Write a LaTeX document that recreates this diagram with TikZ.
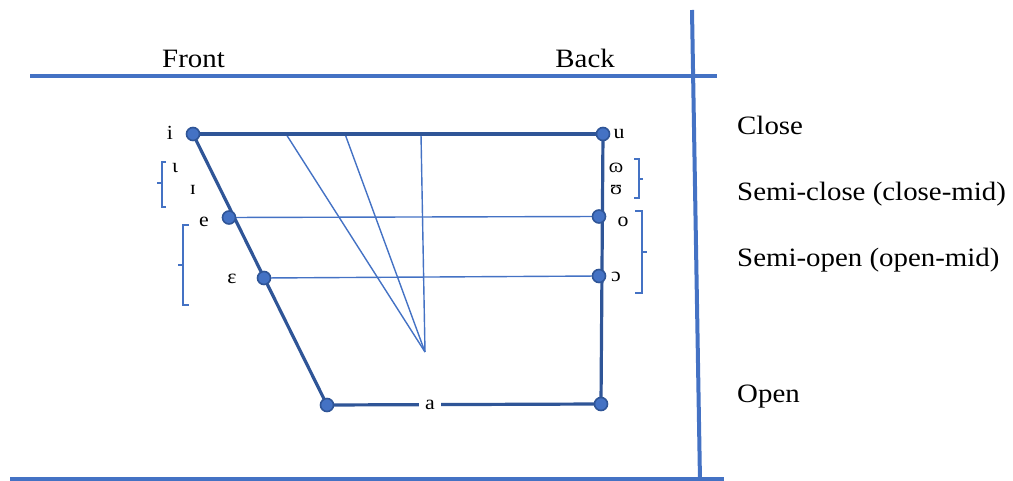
\documentclass[tikz,border=0pt]{standalone}
\usepackage{fontspec}
\usepackage{graphicx}
\setmainfont{Liberation Serif}
\definecolor{frameblue}{RGB}{68,114,196}
\definecolor{darkblue}{RGB}{47,85,151}
\newcommand\wide[1]{\scalebox{1.09}[1]{#1}}
\tikzset{
  frame/.style={draw=frameblue, line width=4pt},
  thick line/.style={draw=darkblue, line width=3.2pt},
  thin line/.style={draw=frameblue, line width=1.4pt},
  bracket/.style={draw=frameblue, line width=2.6pt},
  dot/.style={circle, fill=frameblue, draw=darkblue, line width=1.6pt, minimum size=13pt, inner sep=0pt},
  big label/.style={font=\fontsize{26.5}{30}\selectfont, inner sep=0pt},
  ipa/.style={font=\fontsize{20}{24}\selectfont, inner sep=0pt},
}
\begin{document}
\begin{tikzpicture}[x=1pt, y=-1pt]
\useasboundingbox (0,0) rectangle (1013,481);
% frame
\coordinate (tl) at (30,76.5);
\coordinate (tr) at (717,76.5);
\coordinate (bl) at (10,479);
\coordinate (br) at (724,479);
\coordinate (vt) at (692,10);
\coordinate (vb) at (700,481);
\draw[frame] (tl) -- (tr);
\draw[frame] (bl) -- (br);
\draw[frame] (vt) -- (vb);
% headings
\node[big label, anchor=base west] (front) at (162,68) {\wide{Front}};
\node[big label, anchor=base east] (back) at (615,68) {\wide{Back}};
\node[big label, anchor=base west] (close) at (737,135) {\wide{Close}};
\node[big label, anchor=base west] (semiclose) at (737,201) {\wide{Semi-close (close-mid)}};
\node[big label, anchor=base west] (semiopen) at (737,267) {\wide{Semi-open (open-mid)}};
\node[big label, anchor=base west] (open) at (737,402) {\wide{Open}};
% vowel points
\coordinate (i) at (193,134);
\coordinate (u) at (603,134);
\coordinate (e) at (229,217.5);
\coordinate (o) at (599,216.5);
\coordinate (eps) at (264,278);
\coordinate (oo) at (599,276);
\coordinate (al) at (327,405);
\coordinate (ar) at (601,404);
% fan
\coordinate (f) at (425,352);
\coordinate (t1) at (286,134);
\coordinate (t2) at (345,134);
\coordinate (t3) at (421,134);
\draw[thin line] (t1) -- (f);
\draw[thin line] (t2) -- (f);
\draw[thin line] (t3) -- (f);
\draw[thin line] (e) -- (o);
\draw[thin line] (eps) -- (oo);
% outline
\draw[thick line] (i) -- (u);
\draw[thick line] (i) -- (al);
\draw[thick line] (u) -- (ar);
\draw[thick line] (al) -- node[pos=0.376, ipa, fill=white, inner xsep=6pt, inner ysep=3pt] (alab) {\wide{a}} (ar);
\foreach \p in {i,u,e,o,eps,oo,al,ar} \node[dot] (\p-dot) at (\p) {};
% labels
\node[ipa] (ilab) at (170,133) {\wide{i}};
\node[ipa] (ulab) at (619,134) {\wide{u}};
\node[ipa] (iotalab) at (175,168) {\wide{ɩ}};
\node[ipa] (smallcapi) at (193,190) {\wide{ɪ}};
\node[ipa] (elab) at (204,222) {\wide{e}};
\node[ipa] (epslab) at (232,279) {\wide{ɛ}};
\node[ipa] (omegalab) at (616,168) {\wide{ɷ}};
\node[ipa] (upslab) at (616,190) {\wide{ʊ}};
\node[ipa] (olab) at (623,222) {\wide{o}};
\node[ipa] (oolab) at (616,277) {\wide{ɔ}};
% brackets
\draw[bracket] (166,162) -- (162,162) -- (162,207) -- (166,207);
\draw[bracket] (162,183) -- (157,183);
\draw[bracket] (189,225) -- (183,225) -- (183,305) -- (189,305);
\draw[bracket] (183,265) -- (178,265);
\draw[bracket] (634,159) -- (639,159) -- (639,198) -- (634,198);
\draw[bracket] (639,179) -- (643,179);
\draw[bracket] (635,211) -- (642,211) -- (642,293) -- (635,293);
\draw[bracket] (642,252) -- (647,252);
\end{tikzpicture}
\end{document}
